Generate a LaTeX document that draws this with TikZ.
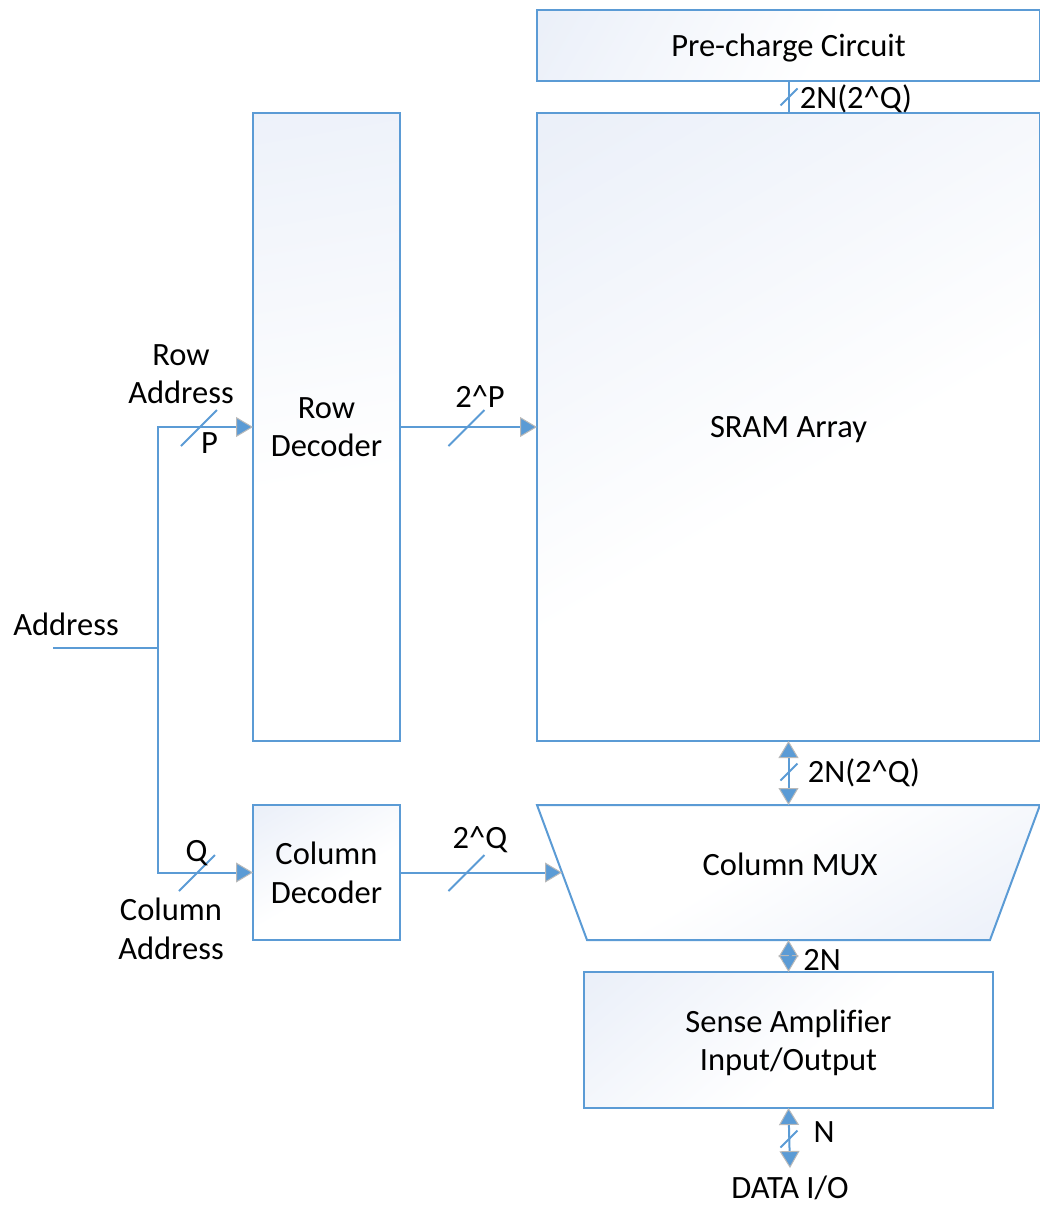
\documentclass[tikz,border=0pt]{standalone}
\usepackage{fontspec}
\setmainfont{Carlito}[Ligatures=NoCommon]
\usetikzlibrary{arrows.meta,calc}
\definecolor{busblue}{RGB}{91,155,213}
\definecolor{fadeblue}{RGB}{226,233,246}
\definecolor{tipgray}{RGB}{185,185,185}
% soft white-to-blue fill used by all blocks
\pgfdeclareverticalshading{boxfade}{100bp}{color(0bp)=(white); color(45bp)=(white); color(100bp)=(fadeblue)}

\begin{document}
\begin{tikzpicture}[x=1pt,y=-1pt,
  every node/.style={font=\fontsize{32.5}{38.5}\selectfont, inner sep=0pt, outer sep=0pt},
  block/.style={draw=busblue, line width=2pt, shading=boxfade, shading angle=30, align=center, text depth=0pt},
  bus/.style={draw=busblue, line width=2pt},
  bustip/.tip={Triangle[length=17pt,width=20pt,fill=busblue,color=tipgray,line width=1pt]},
  lbl/.style={align=center},
  bigslash/.pic={\draw[bus] (-18,18) -- (18,-18);},
  smallslash/.pic={\draw[bus] (-8.5,8.5) -- (8.5,-8.5);},
  tinyslash/.pic={\draw[bus] (-5,5) -- (5,-5);}]
\useasboundingbox (0,0) rectangle (1040,1205);

% blocks
\node[block, minimum width=503pt, minimum height=71pt, shading angle=60] (pre) at (788.5,45.5) {Pre-charge Circuit};
\node[block, minimum width=503pt, minimum height=628pt] (sram) at (788.5,427) {SRAM Array};
\node[block, minimum width=147pt, minimum height=628pt, shading angle=10] (rowdec) at (326.5,427) {Row\\Decoder};
\node[block, minimum width=147pt, minimum height=135pt] (coldec) at (326.5,872.5) {Column\\Decoder};
\node[block, minimum width=409pt, minimum height=136pt, shading angle=40] (sense) at (788.5,1040) {Sense Amplifier\\Input/Output};

% column multiplexer: trapezoid wider at the top
\node[minimum width=503pt, minimum height=135pt] (mux) at (788.5,872.5) {};
\path[shading=boxfade, shading angle=210]
  (mux.north west) -- (mux.north east) -- ([xshift=-50pt]mux.south east) -- ([xshift=50pt]mux.south west) -- cycle;
\draw[bus]
  (mux.north west) -- (mux.north east) -- ([xshift=-50pt]mux.south east) -- ([xshift=50pt]mux.south west) -- cycle;
\node (muxtext) at (790,864) {Column MUX};
\coordinate (muxin) at ([xshift=25pt]mux.west);

% address inputs
\coordinate (addrin) at (53,648);
\coordinate (split) at (158,648);
\node (addr) at (66,624) {Address};
\draw[bus] (addrin) -- (split);
\draw[bus,-bustip] (split) |- (rowdec.west);
\draw[bus,-bustip] (split) |- (coldec.west);
\pic at (199,428) {bigslash};
\pic at (197,873) {bigslash};
\node[lbl] (rowaddr) at (181,374) {Row\\Address};
\node (plbl) at (209.5,443) {P};
\node (qlbl) at (196.5,853) {Q};
\node[lbl] (coladdr) at (171,929) {Column\\Address};

% decoder outputs
\draw[bus,-bustip] (rowdec.east) -- (sram.west);
\pic at (466.5,428) {bigslash};
\node (plines) at (480,397) {2\string^P};
\draw[bus,-bustip] (coldec.east) -- (muxin);
\pic at (466.5,873) {bigslash};
\node (qlines) at (480,840) {2\string^Q};

% bit lines and data path
\draw[bus] (pre.south) -- (sram.north);
\pic at (789,97) {smallslash};
\node (prelbl) at (856,99) {2N(2\string^Q)};

\draw[bus,bustip-bustip] (sram.south) -- (mux.north);
\pic at (789,772) {smallslash};
\node (bitlbl) at (864,773) {2N(2\string^Q)};

\draw[bus,bustip-bustip] (mux.south) -- (sense.north);
\pic at (789,957) {tinyslash};
\node (twon) at (822,960) {2N};

\node (data) at (790,1188) {DATA I/O};
\draw[bus,bustip-bustip] (sense.south) -- ([yshift=8pt]data.north);
\pic at (789,1139) {smallslash};
\node (nlbl) at (824,1132) {N};
\end{tikzpicture}
\end{document}
